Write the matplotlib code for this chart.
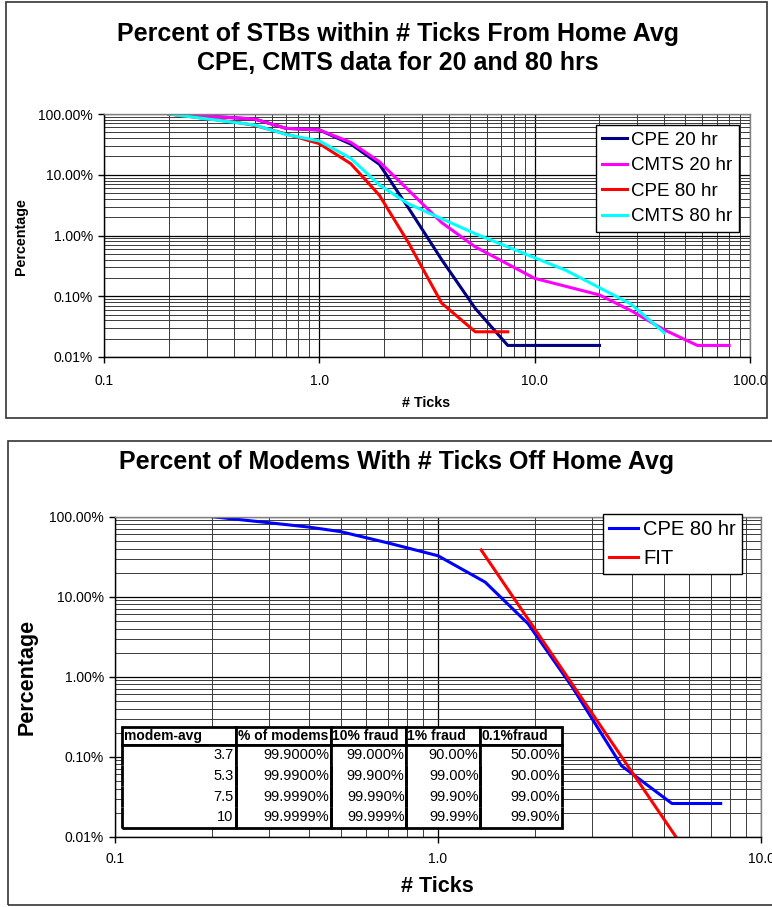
import matplotlib
matplotlib.use("Agg")
import matplotlib.pyplot as plt
from matplotlib.ticker import PercentFormatter, FormatStrFormatter, LogLocator, NullFormatter
from matplotlib.patches import Rectangle

plt.rcParams['font.family'] = ['Liberation Sans', 'DejaVu Sans']

W, H = 772, 907

# ---- top chart: percent of STBs within # ticks (values in %)
cpe20_x = [0.2, 0.5, 0.7, 1.0, 1.4, 1.9, 2.6, 3.7, 5.3, 7.5, 20]
cpe20_y = [100, 82.7, 58, 54.6, 32, 14.9, 2.8, 0.40, 0.063, 0.0155, 0.0155]
cmts20_x = [0.2, 0.5, 0.7, 1.0, 1.4, 1.9, 3.7, 5.3, 10, 20, 28, 40, 57, 80]
cmts20_y = [100, 82.7, 58.2, 54.6, 34.2, 16.4, 1.63, 0.65, 0.197, 0.105, 0.058, 0.028, 0.0155, 0.0155]
cpe80_x = [0.2, 0.3, 0.4, 0.5, 0.7, 1.0, 1.4, 1.9, 2.6, 3.7, 5.3, 7.5]
cpe80_y = [100, 84, 74, 65, 47, 32.5, 15.2, 4.6, 0.75, 0.077, 0.026, 0.026]
cmts80_x = [0.2, 0.5, 0.7, 1.0, 1.4, 1.9, 2.6, 5.3, 14, 28, 40]
cmts80_y = [100, 66, 46, 36, 18.6, 6.8, 3.3, 1.07, 0.266, 0.0745, 0.025]

# ---- bottom chart: fit line through the tail of CPE 80 hr
fit_x = [1.36, 5.45]
fit_y = [38.4, 0.01]

# ---- table on bottom chart
table_cols = ['modem-avg', '% of modems', '10% fraud', '1% fraud', '0.1%fraud']
table_rows = [
    ['3.7', '99.9000%', '99.000%', '90.00%', '50.00%'],
    ['5.3', '99.9900%', '99.900%', '99.00%', '90.00%'],
    ['7.5', '99.9990%', '99.990%', '99.90%', '99.00%'],
    ['10', '99.9999%', '99.999%', '99.99%', '99.90%'],
]
col_widths = [114, 95, 75, 74, 82]


def px(x, y):
    return x / W, 1 - y / H


def style_axes(ax, xmax, xpad):
    ax.set_xscale('log')
    ax.set_yscale('log')
    ax.set_xlim(0.1, xmax)
    ax.set_ylim(0.01, 100)
    ax.xaxis.set_major_formatter(FormatStrFormatter('%.1f'))
    ax.xaxis.set_minor_formatter(NullFormatter())
    ax.yaxis.set_major_formatter(PercentFormatter(xmax=100, decimals=2))
    ax.yaxis.set_minor_formatter(NullFormatter())
    ax.xaxis.set_minor_locator(LogLocator(base=10, subs=range(2, 10), numticks=20))
    ax.yaxis.set_minor_locator(LogLocator(base=10, subs=range(2, 10), numticks=20))
    ax.grid(which='major', color='black', lw=0.9, zorder=0)
    ax.grid(which='minor', color='#3a3a3a', lw=0.7, zorder=0)
    ax.set_axisbelow(True)
    ax.tick_params(which='major', direction='out', length=4, width=1,
                   labelsize=10, colors='black')
    ax.tick_params(axis='x', which='major', pad=xpad)
    ax.tick_params(axis='y', which='major', pad=4)
    ax.tick_params(which='minor', length=0)
    for s in ['left', 'bottom']:
        ax.spines[s].set_color('black')
        ax.spines[s].set_linewidth(1)
    for s in ['top', 'right']:
        ax.spines[s].set_color('#808080')
        ax.spines[s].set_linewidth(1)


fig = plt.figure(figsize=(W / 100, H / 100), dpi=100)
fig.patch.set_facecolor('white')

# chart frames
fig.patches.append(Rectangle(px(6, 418), 761 / W, 416 / H, transform=fig.transFigure,
                             fill=False, edgecolor='#333333', lw=1.2))
fig.patches.append(Rectangle(px(8, 905), 780 / W, 464 / H, transform=fig.transFigure,
                             fill=False, edgecolor='#333333', lw=1.2))

# ---------------- top chart
l, b = px(104, 357)
ax1 = fig.add_axes([l, b, 646 / W, 243 / H])
style_axes(ax1, 100, 8)
ax1.plot(cpe20_x, cpe20_y, color='#000080', lw=2.2, label='CPE 20 hr')
ax1.plot(cmts20_x, cmts20_y, color='#FF00FF', lw=2.2, label='CMTS 20 hr')
ax1.plot(cpe80_x, cpe80_y, color='#FF0000', lw=2.2, label='CPE 80 hr')
ax1.plot(cmts80_x, cmts80_y, color='#00FFFF', lw=2.2, label='CMTS 80 hr')
leg1 = ax1.legend(loc='upper right', bbox_to_anchor=(0.983, 0.955), fontsize=13.5,
                  frameon=True, fancybox=False, framealpha=1, edgecolor='black',
                  handlelength=1.3, handletextpad=0.25, labelspacing=0.45,
                  borderpad=0.35, borderaxespad=0)
leg1.get_frame().set_linewidth(1)

fig.text(*px(398, 34), 'Percent of STBs within # Ticks From Home Avg',
         ha='center', va='center', fontsize=18, fontweight='bold')
fig.text(*px(398, 63), 'CPE, CMTS data for 20 and 80 hrs',
         ha='center', va='center', fontsize=18, fontweight='bold')
fig.text(*px(21, 237), 'Percentage', rotation=90, ha='center', va='center',
         fontsize=10.3, fontweight='bold')
fig.text(*px(426, 403), '# Ticks', ha='center', va='center',
         fontsize=10.3, fontweight='bold')

# ---------------- bottom chart
l, b = px(115, 836.7)
ax2 = fig.add_axes([l, b, 646 / W, 320 / H])
style_axes(ax2, 10, 7)
ax2.plot(cpe80_x, cpe80_y, color='#0000FF', lw=2.2, label='CPE 80 hr')
ax2.plot(fit_x, fit_y, color='#FF0000', lw=2.2, label='FIT')
leg2 = ax2.legend(loc='upper right', bbox_to_anchor=(0.971, 1.008), fontsize=14.5,
                  frameon=True, fancybox=False, framealpha=1, edgecolor='black',
                  handlelength=1.45, handletextpad=0.25, labelspacing=0.5,
                  borderpad=0.3, borderaxespad=0)
leg2.get_frame().set_linewidth(1)

tbl_box = [7 / 646, 9 / 320, 440 / 646, 101 / 320]
ax2.add_patch(Rectangle(tbl_box[:2], tbl_box[2], tbl_box[3], transform=ax2.transAxes,
                        facecolor='white', edgecolor='none', zorder=4))
tbl = ax2.table(cellText=table_rows, colLabels=table_cols, bbox=tbl_box, zorder=5)
tbl.auto_set_font_size(False)
total_w = sum(col_widths)
for (r, c), cell in tbl.get_celld().items():
    cell.set_width(col_widths[c] / total_w)
    cell.set_height(18 if r == 0 else 20.75)
    cell.set_linewidth(2)
    cell.set_edgecolor('black')
    cell.set_facecolor('white')
    cell.PAD = 0.02
    txt = cell.get_text()
    if r == 0:
        cell.visible_edges = 'closed'
        txt.set_fontsize(10)
        txt.set_fontweight('bold')
        cell._loc = 'left'
        txt.set_ha('left')
    else:
        cell.visible_edges = {1: 'TLR', 4: 'BLR'}.get(r, 'LR')
        txt.set_fontsize(10.5)
        cell._loc = 'right'
        txt.set_ha('right')

fig.text(*px(397, 462), 'Percent of Modems With # Ticks Off Home Avg',
         ha='center', va='center', fontsize=18, fontweight='bold')
fig.text(*px(27, 677), 'Percentage', rotation=90, ha='center', va='center',
         fontsize=15.5, fontweight='bold')
fig.text(*px(437, 887), '# Ticks', ha='center', va='center',
         fontsize=15.5, fontweight='bold')

fig.savefig('out.png', dpi=100, facecolor='white')
